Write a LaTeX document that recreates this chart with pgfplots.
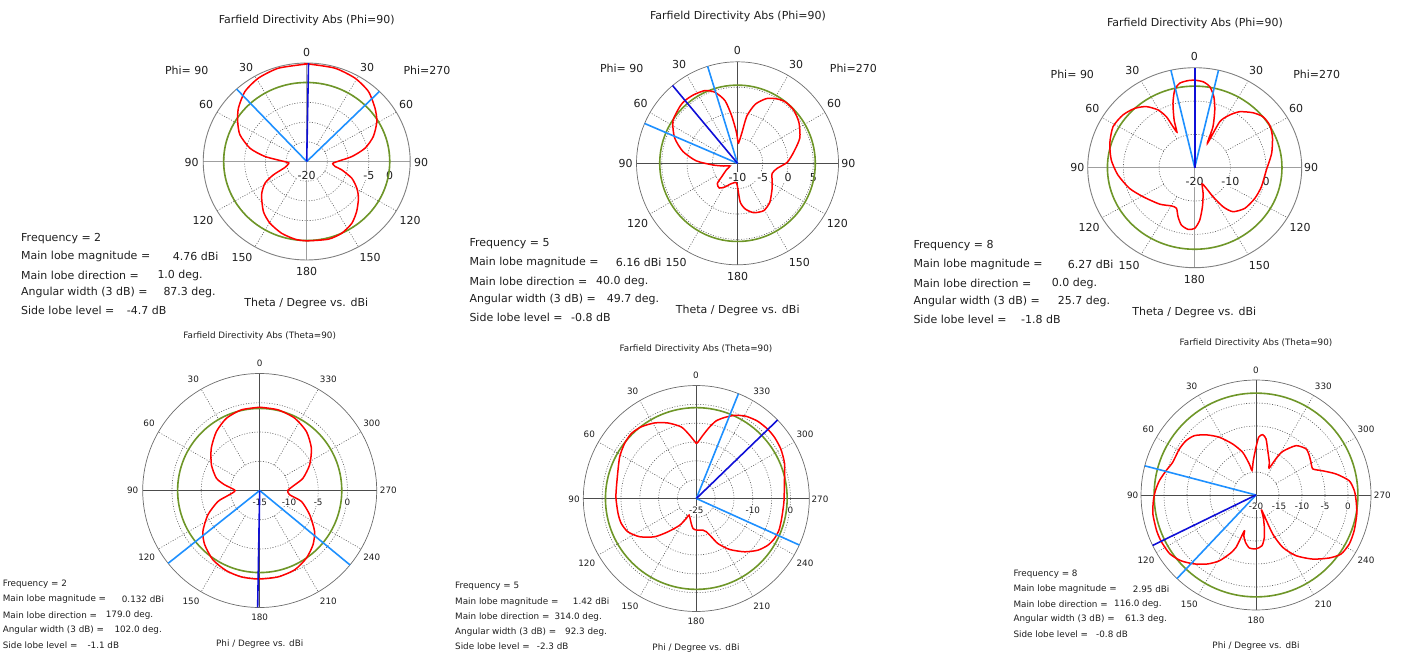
\documentclass[border=0pt]{standalone}
\usepackage{pgfplots}
\pgfplotsset{compat=1.18}
\usepackage{pgfplotstable}
\usepackage{fontspec}
\setmainfont{DejaVu Sans}
\definecolor{grn}{RGB}{110,150,40}
\definecolor{dblue}{RGB}{15,15,215}
\definecolor{lblue}{RGB}{30,144,255}
\definecolor{txt}{RGB}{30,30,30}
\tikzset{
  T/.style={font=\fontsize{11}{13}\selectfont, text=txt, inner sep=0pt},
  S/.style={font=\fontsize{8.8}{10.5}\selectfont, text=txt, inner sep=0pt},
  dotg/.style={gray!75!black, line width=0.6pt, dash pattern=on 1pt off 1.6pt},
  axA/.style={gray!75, line width=1.4pt},
  axB/.style={gray!60!black, line width=0.8pt},
  outA/.style={gray, line width=0.9pt},
  outB/.style={gray!85!black, line width=0.7pt},
  rlA/.style={T, fill=white, inner sep=0.8pt, yshift=-14pt},
  rlB/.style={S, fill=white, inner sep=0.6pt, yshift=-11.5pt},
  redc/.style={red, line width=1.5pt, smooth, tension=0.4},
  grnc/.style={grn, line width=1.6pt},
  db/.style={dblue, line width=1.6pt},
  lb/.style={lblue, line width=1.6pt},
}
\pgfplotsset{
  table/pol/.style={x expr={(\thisrow{d}-(#1))*cos(\thisrow{a}+90)}, y expr={(\thisrow{d}-(#1))*sin(\thisrow{a}+90)}},
  polbox/.style={scale only axis, hide axis, clip=false, anchor=center, xmin=-#1, xmax=#1, ymin=-#1, ymax=#1},
}

% ---------- data: a = angle counter-clockwise from top (deg), d = dBi ----------
\pgfplotstableread{
a d
0 4.74
16.1 4.65
28.9 4.16
40 3.2
50.6 1.35
58.7 -0.48
67.2 -2.5
76.2 -5.9
82.8 -9.85
92.1 -15.2
97 -15.6
106.2 -14.5
112.8 -11.3
118.7 -8.5
127.8 -6.2
140.5 -3.55
150.4 -2.0
161.6 -0.8
171.9 -0.08
180 0.13
194.9 0.4
204.9 0.08
214.8 -0.9
223.6 -2.5
233.3 -4.4
240.7 -6.1
248.7 -8.3
256 -11.3
259.5 -13.0
265 -13.7
268.5 -13.1
276.6 -9.0
283.5 -5.5
291.5 -2.7
300.9 -0.25
309.4 1.35
320 3.2
331.1 4.16
343.9 4.65
359 4.76
360 4.74
}\pA

\pgfplotstableread{
a d
0 -5.2
2.4 -3.66
7 -0.6
11.3 2.58
17.7 4.7
24.3 5.72
32.8 6.05
40 6.16
45.3 6.0
56.9 5.28
68.1 3.42
77.8 1.06
86.7 -1.84
94 -5.18
101 -7.2
110 -8.44
120 -7.5
130.3 -5.88
135 -4.34
143.5 -3.94
152 -4.72
160 -5.6
168.3 -6.06
176 -6.2
180 -5.4
184 -2.32
189.7 -0.86
198.2 0.24
209.1 0.68
219.9 -0.02
233.9 -1.52
242 -2.22
253.8 -2.86
262.8 -2.08
271.2 -0.14
281.8 1.44
292.1 3.32
303.6 4.6
313.6 5.3
322.1 5.36
328.4 4.9
335.7 4.0
343.1 2.18
348.7 -0.48
351.8 -3.94
357 -6.0
360 -5.2
}\pB

\pgfplotstableread{
a d
0 6.27
4 6.2
9.4 5.7
13.5 4.0
17.5 0.27
22 -4.6
25 -8.2
26.3 -6.3
27.5 -2.7
30.7 0.15
36.5 2.8
43.4 4.5
51.8 5.6
61.7 6.0
73 4.9
84.4 3.5
95.8 1.65
108.8 -0.7
121 -3.1
138 -5.3
150.3 -6.8
157.2 -6.8
162.3 -4.6
167.7 -2.4
174.3 -1.4
180 -1.8
185.1 -4.2
190.5 -8.1
196.9 -11.9
203 -14.7
207.8 -13
210.5 -9.9
214.2 -5.8
219.1 -3.0
229 -1.4
241.3 -0.8
253 -0.45
268 0.1
281.3 2.0
293.1 3.7
301.3 4.6
308.6 4.5
315.3 3.2
323.1 1.0
328.2 -1.4
333 -4.5
334 -11.9
337.4 -6.7
342 -1.8
345.9 2.0
350.2 4.7
354.8 5.9
360 6.27
}\pC

\pgfplotstableread{
a d
0 -0.76
12.8 -0.86
24.7 -1.4
36.3 -2.5
48.8 -4.0
62 -5.65
74.1 -7.3
80.7 -8.9
90 -10.8
99 -9.5
104.8 -7.6
115.2 -5.2
125.9 -3.0
134.6 -1.8
146 -0.7
157.5 -0.15
168.1 0.1
179 0.132
191.9 0.1
203.8 -0.18
214.6 -0.95
224.5 -2.0
233.3 -3.3
244.1 -5.5
255.2 -7.6
261.8 -9.8
270 -10.2
279.3 -8.9
285.9 -7.3
297.2 -5.4
309.3 -3.58
321.6 -2.14
334.2 -1.26
347.2 -0.86
360 -0.76
}\pD

\pgfplotstableread{
a d
0 -10.4
6 -8.1
11.8 -5.6
20.5 -3.6
28.8 -2.1
37.5 -1.0
45 -0.6
52.5 -1.0
61.5 -1.85
74.5 -3.25
88.8 -3.65
100.8 -3.85
108.4 -4.0
116 -4.8
124 -6.85
132.6 -10.0
139.6 -13.4
148 -16.6
153.4 -19.1
156.4 -20.2
168.7 -18.2
173.7 -17
180.5 -16.6
191.9 -16.4
196.7 -15.8
201.4 -14.1
205.7 -11.7
213.1 -8.85
222.2 -5.9
230 -3.65
236.9 -2.3
242.9 -1.7
249 -1.5
255.7 -1.7
262.3 -1.8
268.9 -1.7
281.7 -1.1
291.6 0.2
300.3 1.0
307.8 1.35
314 1.42
321.6 1.2
329 0.5
335.3 -0.7
340.7 -2.2
345.6 -3.7
349.5 -5.7
354 -8.1
358.3 -10
360 -10.4
}\pE

\pgfplotstableread{
a d
0 -9.6
4.5 -12.5
9.3 -14.6
12.2 -13.1
17.3 -10.3
24.6 -7.8
32.5 -5.1
39.7 -3.0
46.1 -1.4
52.2 -0.74
59 -0.56
68.6 -0.54
74.9 0.26
81.6 1.24
87.6 1.9
93.2 2.35
100.4 2.8
109.5 2.95
116 2.95
124.2 2.7
131.2 1.7
138.2 0.1
145 -1.7
150.8 -3.6
155.7 -5.9
159.1 -7.8
161.9 -11.8
163.5 -10.7
167.3 -9.5
172.8 -8.4
180 -8.3
186.7 -8.9
191.1 -10.6
194.4 -12.7
198.1 -14.9
200.5 -16.5
203.2 -10.8
207.1 -7.2
213.4 -4.2
221.5 -1.4
229.3 1.0
235.2 2.5
242.3 2.9
250 2.7
259.3 2.3
266.7 1.8
272.5 1.4
278.7 0.5
284.7 -2.0
290 -4.6
294.6 -6.4
300.7 -6.1
306.4 -5.6
312.6 -5.2
321 -6.2
328.6 -8.9
331 -10.7
334 -13.5
337.9 -12.3
345.2 -10
349.9 -7.6
353.7 -6.8
357.3 -7.4
360 -9.6
}\pF

\begin{document}
\begin{tikzpicture}[x=1pt,y=-1pt]
\path[use as bounding box] (0,0) rectangle (1404,655);

% ================= P1 (Phi=90, f=2) =================
\begin{axis}[polbox=25, at={(306.7pt,-161.5pt)}, width=207pt, height=197pt]
  \draw[dotg] (axis cs:0,0) ellipse [x radius=5, y radius=5];
  \draw[dotg] (axis cs:0,0) ellipse [x radius=10, y radius=10];
  \draw[dotg] (axis cs:0,0) ellipse [x radius=15, y radius=15];
  \draw[dotg] (axis cs:0,0) ellipse [x radius=20, y radius=20];
  \pgfplotsinvokeforeach{30,60,120,150,210,240,300,330}{\draw[dotg] (axis cs:{5*cos(#1)},{5*sin(#1)}) -- (axis cs:{25*cos(#1)},{25*sin(#1)});}
  \draw[axA] (axis cs:-25,0) -- (axis cs:25,0);
  \draw[axA] (axis cs:0,-25) -- (axis cs:0,25);
  \draw[outA] (axis cs:0,0) ellipse [x radius=25, y radius=25];
  \node[rlA] at (axis cs:0,0) {-20};
  \node[rlA] at (axis cs:15,0) {-5};
  \node[rlA] at (axis cs:20,0) {0};
  \draw[grnc] (axis cs:0,0) ellipse [x radius=20.06, y radius=20.06];
  \addplot[redc] table[pol=-20] {\pA};
  \addplot[lb] table[pol=-20, row sep=\\] {a d\\ 42.65 -20\\ 42.65 5\\};
  \addplot[lb] table[pol=-20, row sep=\\] {a d\\ 315.35 -20\\ 315.35 5\\};
  \addplot[db] table[pol=-20, row sep=\\] {a d\\ 359 -20\\ 359 5\\};
\end{axis}

% ================= P2 (Phi=90, f=5) =================
\begin{axis}[polbox=20, at={(737.5pt,-163.3pt)}, width=202pt, height=203pt]
  \draw[dotg] (axis cs:0,0) ellipse [x radius=5, y radius=5];
  \draw[dotg] (axis cs:0,0) ellipse [x radius=10, y radius=10];
  \draw[dotg] (axis cs:0,0) ellipse [x radius=15, y radius=15];
  \pgfplotsinvokeforeach{30,60,120,150,210,240,300,330}{\draw[dotg] (axis cs:{5*cos(#1)},{5*sin(#1)}) -- (axis cs:{20*cos(#1)},{20*sin(#1)});}
  \draw[axB] (axis cs:-20,0) -- (axis cs:20,0);
  \draw[axB] (axis cs:0,-20) -- (axis cs:0,20);
  \draw[outB] (axis cs:0,0) ellipse [x radius=20, y radius=20];
  \node[rlA] at (axis cs:0,0) {-10};
  \node[rlA] at (axis cs:5,0) {-5};
  \node[rlA] at (axis cs:10,0) {0};
  \node[rlA] at (axis cs:15,0) {5};
  \draw[grnc] (axis cs:0,0) ellipse [x radius=15.4, y radius=15.4];
  \addplot[redc] table[pol=-10] {\pB};
  \addplot[lb] table[pol=-10, row sep=\\] {a d\\ 17.2 -10\\ 17.2 10\\};
  \addplot[lb] table[pol=-10, row sep=\\] {a d\\ 66.9 -10\\ 66.9 10\\};
  \addplot[db] table[pol=-10, row sep=\\] {a d\\ 40 -10\\ 40 10\\};
\end{axis}

% ================= P3 (Phi=90, f=8) =================
\begin{axis}[polbox=30, at={(1194.7pt,-167.7pt)}, width=214pt, height=200pt]
  \draw[dotg] (axis cs:0,0) ellipse [x radius=10, y radius=10];
  \draw[dotg] (axis cs:0,0) ellipse [x radius=20, y radius=20];
  \pgfplotsinvokeforeach{30,60,120,150,210,240,300,330}{\draw[dotg] (axis cs:{10*cos(#1)},{10*sin(#1)}) -- (axis cs:{30*cos(#1)},{30*sin(#1)});}
  \draw[axA] (axis cs:-30,0) -- (axis cs:30,0);
  \draw[axA] (axis cs:0,-30) -- (axis cs:0,30);
  \draw[outA] (axis cs:0,0) ellipse [x radius=30, y radius=30];
  \node[rlA] at (axis cs:0,0) {-20};
  \node[rlA] at (axis cs:10,0) {-10};
  \node[rlA] at (axis cs:20,0) {0};
  \draw[grnc] (axis cs:0,0) ellipse [x radius=24.47, y radius=24.47];
  \addplot[redc] table[pol=-20] {\pC};
  \addplot[lb] table[pol=-20, row sep=\\] {a d\\ 12.85 -20\\ 12.85 10\\};
  \addplot[lb] table[pol=-20, row sep=\\] {a d\\ 347.15 -20\\ 347.15 10\\};
  \addplot[db] table[pol=-20, row sep=\\] {a d\\ 0 -20\\ 0 10\\};
\end{axis}

% ================= P4 (Theta=90, f=2) =================
\begin{axis}[polbox=20, at={(259.7pt,-490.5pt)}, width=234pt, height=234pt]
  \draw[dotg] (axis cs:0,0) ellipse [x radius=5, y radius=5];
  \draw[dotg] (axis cs:0,0) ellipse [x radius=10, y radius=10];
  \draw[dotg] (axis cs:0,0) ellipse [x radius=15, y radius=15];
  \pgfplotsinvokeforeach{30,60,120,150,210,240,300,330}{\draw[dotg] (axis cs:{5*cos(#1)},{5*sin(#1)}) -- (axis cs:{20*cos(#1)},{20*sin(#1)});}
  \draw[axB] (axis cs:-20,0) -- (axis cs:20,0);
  \draw[axB] (axis cs:0,-20) -- (axis cs:0,20);
  \draw[outB] (axis cs:0,0) ellipse [x radius=20, y radius=20];
  \node[rlB] at (axis cs:0,0) {-15};
  \node[rlB] at (axis cs:5,0) {-10};
  \node[rlB] at (axis cs:10,0) {-5};
  \node[rlB] at (axis cs:15,0) {0};
  \draw[grnc] (axis cs:0,0) ellipse [x radius=14.03, y radius=14.03];
  \addplot[redc] table[pol=-15] {\pD};
  \addplot[lb] table[pol=-15, row sep=\\] {a d\\ 128.5 -15\\ 128.5 5\\};
  \addplot[lb] table[pol=-15, row sep=\\] {a d\\ 230.5 -15\\ 230.5 5\\};
  \addplot[db] table[pol=-15, row sep=\\] {a d\\ 179 -15\\ 179 5\\};
\end{axis}

% ================= P5 (Theta=90, f=5) =================
\begin{axis}[polbox=30, at={(696.3pt,-498.5pt)}, width=226pt, height=226pt]
  \draw[dotg] (axis cs:0,0) ellipse [x radius=5, y radius=5];
  \draw[dotg] (axis cs:0,0) ellipse [x radius=10, y radius=10];
  \draw[dotg] (axis cs:0,0) ellipse [x radius=15, y radius=15];
  \draw[dotg] (axis cs:0,0) ellipse [x radius=20, y radius=20];
  \draw[dotg] (axis cs:0,0) ellipse [x radius=25, y radius=25];
  \pgfplotsinvokeforeach{30,60,120,150,210,240,300,330}{\draw[dotg] (axis cs:{5*cos(#1)},{5*sin(#1)}) -- (axis cs:{30*cos(#1)},{30*sin(#1)});}
  \draw[axB] (axis cs:-30,0) -- (axis cs:30,0);
  \draw[axB] (axis cs:0,-30) -- (axis cs:0,30);
  \draw[outB] (axis cs:0,0) ellipse [x radius=30, y radius=30];
  \node[rlB] at (axis cs:0,0) {-25};
  \node[rlB] at (axis cs:15,0) {-10};
  \node[rlB] at (axis cs:25,0) {0};
  \draw[grnc] (axis cs:0,0) ellipse [x radius=24.12, y radius=24.12];
  \addplot[redc] table[pol=-25] {\pE};
  \addplot[lb] table[pol=-25, row sep=\\] {a d\\ 338.1 -25\\ 338.1 5\\};
  \addplot[lb] table[pol=-25, row sep=\\] {a d\\ 245.7 -25\\ 245.7 5\\};
  \addplot[db] table[pol=-25, row sep=\\] {a d\\ 314 -25\\ 314 5\\};
\end{axis}

% ================= P6 (Theta=90, f=8) =================
\begin{axis}[polbox=25, at={(1256pt,-495pt)}, width=230pt, height=230pt]
  \draw[dotg] (axis cs:0,0) ellipse [x radius=5, y radius=5];
  \draw[dotg] (axis cs:0,0) ellipse [x radius=10, y radius=10];
  \draw[dotg] (axis cs:0,0) ellipse [x radius=15, y radius=15];
  \draw[dotg] (axis cs:0,0) ellipse [x radius=20, y radius=20];
  \pgfplotsinvokeforeach{30,60,120,150,210,240,300,330}{\draw[dotg] (axis cs:{5*cos(#1)},{5*sin(#1)}) -- (axis cs:{25*cos(#1)},{25*sin(#1)});}
  \draw[axB] (axis cs:-25,0) -- (axis cs:25,0);
  \draw[axB] (axis cs:0,-25) -- (axis cs:0,25);
  \draw[outB] (axis cs:0,0) ellipse [x radius=25, y radius=25];
  \node[rlB] at (axis cs:0,0) {-20};
  \node[rlB] at (axis cs:5,0) {-15};
  \node[rlB] at (axis cs:10,0) {-10};
  \node[rlB] at (axis cs:15,0) {-5};
  \node[rlB] at (axis cs:20,0) {0};
  \draw[grnc] (axis cs:0,0) ellipse [x radius=22.15, y radius=22.15];
  \addplot[redc] table[pol=-20] {\pF};
  \addplot[lb] table[pol=-20, row sep=\\] {a d\\ 75.3 -20\\ 75.3 5\\};
  \addplot[lb] table[pol=-20, row sep=\\] {a d\\ 136.6 -20\\ 136.6 5\\};
  \addplot[db] table[pol=-20, row sep=\\] {a d\\ 116 -20\\ 116 5\\};
\end{axis}

% ================= texts P1 =================
\node[T] at (306.7,20.7) {Farfield Directivity Abs (Phi=90)};
\node[T] at (186.7,70.7) {Phi= 90};
\node[T] at (427,70.7) {Phi=270};
\node[T] at (306.7,52.7) {0};
\node[T] at (246,67) {30};   \node[T] at (367,67) {30};
\node[T] at (206,104) {60};  \node[T] at (406,104) {60};
\node[T] at (191.7,162) {90}; \node[T] at (421,162) {90};
\node[T] at (203,220) {120}; \node[T] at (410,220) {120};
\node[T] at (242,257) {150}; \node[T] at (370,257) {150};
\node[T] at (306.7,271) {180};
\node[T,anchor=west] at (21,238.3) {Frequency = 2};
\node[T,anchor=west] at (21,256.7) {Main lobe magnitude =};
\node[T,anchor=west] at (21,275) {Main lobe direction =};
\node[T,anchor=west] at (21,292.7) {Angular width (3 dB) =};
\node[T,anchor=west] at (21,310.7) {Side lobe level =};
\node[T,anchor=west] at (172.7,256.7) {4.76 dBi};
\node[T,anchor=west] at (157.3,275) {1.0 deg.};
\node[T,anchor=west] at (163.3,292.7) {87.3 deg.};
\node[T,anchor=west] at (126.7,310.7) {-4.7 dB};
\node[T] at (306.3,303.3) {Theta / Degree vs. dBi};

% ================= texts P2 =================
\node[T] at (738,16) {Farfield Directivity Abs (Phi=90)};
\node[T] at (621.7,68.3) {Phi= 90};
\node[T] at (853.3,68.3) {Phi=270};
\node[T] at (737.3,50) {0};
\node[T] at (679,64.3) {30};   \node[T] at (796,64.3) {30};
\node[T] at (640.7,103) {60};  \node[T] at (834,103) {60};
\node[T] at (625.7,163.3) {90}; \node[T] at (848.3,163.3) {90};
\node[T] at (637.7,223.3) {120}; \node[T] at (837.3,223.3) {120};
\node[T] at (676,262) {150}; \node[T] at (799.3,262) {150};
\node[T] at (737.7,276.7) {180};
\node[T,anchor=west] at (469.3,243.3) {Frequency = 5};
\node[T,anchor=west] at (469.3,262) {Main lobe magnitude =};
\node[T,anchor=west] at (469.3,281) {Main lobe direction =};
\node[T,anchor=west] at (469.3,299.3) {Angular width (3 dB) =};
\node[T,anchor=west] at (469.3,317.7) {Side lobe level =};
\node[T,anchor=west] at (615.7,262) {6.16 dBi};
\node[T,anchor=west] at (596,281) {40.0 deg.};
\node[T,anchor=west] at (606.7,299.3) {49.7 deg.};
\node[T,anchor=west] at (571,317.7) {-0.8 dB};
\node[T] at (737.7,310) {Theta / Degree vs. dBi};

% ================= texts P3 =================
\node[T] at (1195,23.3) {Farfield Directivity Abs (Phi=90)};
\node[T] at (1072.3,74) {Phi= 90};
\node[T] at (1316.7,74) {Phi=270};
\node[T] at (1194.3,56.7) {0};
\node[T] at (1132.3,70.7) {30};   \node[T] at (1256,70.7) {30};
\node[T] at (1092.3,108.3) {60};  \node[T] at (1296,108.3) {60};
\node[T] at (1077.3,167.7) {90}; \node[T] at (1311,167.7) {90};
\node[T] at (1089,227.3) {120}; \node[T] at (1300,227.3) {120};
\node[T] at (1129,265) {150}; \node[T] at (1259.3,265) {150};
\node[T] at (1194.3,279.3) {180};
\node[T,anchor=west] at (913.3,246) {Frequency = 8};
\node[T,anchor=west] at (913.3,264.3) {Main lobe magnitude =};
\node[T,anchor=west] at (913.3,283) {Main lobe direction =};
\node[T,anchor=west] at (913.3,301) {Angular width (3 dB) =};
\node[T,anchor=west] at (913.3,319.3) {Side lobe level =};
\node[T,anchor=west] at (1067.7,264.3) {6.27 dBi};
\node[T,anchor=west] at (1051.7,283) {0.0 deg.};
\node[T,anchor=west] at (1057.7,301) {25.7 deg.};
\node[T,anchor=west] at (1021,319.3) {-1.8 dB};
\node[T] at (1194.3,312.3) {Theta / Degree vs. dBi};

% ================= texts P4 =================
\node[S] at (259.7,336) {Farfield Directivity Abs (Theta=90)};
\node[S] at (259.7,363.3) {0};
\node[S] at (193.3,379.3) {30};  \node[S] at (328.3,379.3) {330};
\node[S] at (149,423.3) {60};    \node[S] at (371.7,423.3) {300};
\node[S] at (132.7,490.7) {90};  \node[S] at (388.3,490.7) {270};
\node[S] at (146.7,557.7) {120}; \node[S] at (371.7,557.7) {240};
\node[S] at (191,601) {150};     \node[S] at (328.3,601) {210};
\node[S] at (259.7,617.3) {180};
\node[S,anchor=west] at (2.7,584) {Frequency = 2};
\node[S,anchor=west] at (2.7,599.3) {Main lobe magnitude =};
\node[S,anchor=west] at (2.7,615) {Main lobe direction =};
\node[S,anchor=west] at (2.7,630) {Angular width (3 dB) =};
\node[S,anchor=west] at (2.7,645) {Side lobe level =};
\node[S,anchor=west] at (121.7,599.3) {0.132 dBi};
\node[S,anchor=west] at (105.7,615) {179.0 deg.};
\node[S,anchor=west] at (114.3,630) {102.0 deg.};
\node[S,anchor=west] at (87.3,645) {-1.1 dB};
\node[S] at (259.7,644.3) {Phi / Degree vs. dBi};

% ================= texts P5 =================
\node[S] at (696,349.3) {Farfield Directivity Abs (Theta=90)};
\node[S] at (696,375.7) {0};
\node[S] at (632.7,391.7) {30};  \node[S] at (761.7,391.7) {330};
\node[S] at (589.3,434) {60};    \node[S] at (805,434) {300};
\node[S] at (574,499) {90};      \node[S] at (820,499) {270};
\node[S] at (586.7,563.3) {120}; \node[S] at (805,563.3) {240};
\node[S] at (630,606) {150};     \node[S] at (761.7,606) {210};
\node[S] at (696,621.7) {180};
\node[S,anchor=west] at (455,586.7) {Frequency = 5};
\node[S,anchor=west] at (455,601.7) {Main lobe magnitude =};
\node[S,anchor=west] at (455,616.7) {Main lobe direction =};
\node[S,anchor=west] at (455,631.7) {Angular width (3 dB) =};
\node[S,anchor=west] at (455,646) {Side lobe level =};
\node[S,anchor=west] at (572.7,601.7) {1.42 dBi};
\node[S,anchor=west] at (554.3,616.7) {314.0 deg.};
\node[S,anchor=west] at (565,631.7) {92.3 deg.};
\node[S,anchor=west] at (536.7,646) {-2.3 dB};
\node[S] at (696,648.3) {Phi / Degree vs. dBi};

% ================= texts P6 =================
\node[S] at (1256,343.3) {Farfield Directivity Abs (Theta=90)};
\node[S] at (1256,370.7) {0};
\node[S] at (1191.7,386.7) {30};  \node[S] at (1323.3,386.7) {330};
\node[S] at (1148.3,429.3) {60};  \node[S] at (1366,429.3) {300};
\node[S] at (1132.7,495) {90};    \node[S] at (1382.3,495) {270};
\node[S] at (1146,560.7) {120};   \node[S] at (1366,560.7) {240};
\node[S] at (1189.3,604.3) {150}; \node[S] at (1323.3,604.3) {210};
\node[S] at (1256,620) {180};
\node[S,anchor=west] at (1013.3,574) {Frequency = 8};
\node[S,anchor=west] at (1013.3,589.3) {Main lobe magnitude =};
\node[S,anchor=west] at (1013.3,604.3) {Main lobe direction =};
\node[S,anchor=west] at (1013.3,619.3) {Angular width (3 dB) =};
\node[S,anchor=west] at (1013.3,634.3) {Side lobe level =};
\node[S,anchor=west] at (1132.7,589.3) {2.95 dBi};
\node[S,anchor=west] at (1114,604.3) {116.0 deg.};
\node[S,anchor=west] at (1125,619.3) {61.3 deg.};
\node[S,anchor=west] at (1096,634.3) {-0.8 dB};
\node[S] at (1256,646) {Phi / Degree vs. dBi};
\end{tikzpicture}
\end{document}
